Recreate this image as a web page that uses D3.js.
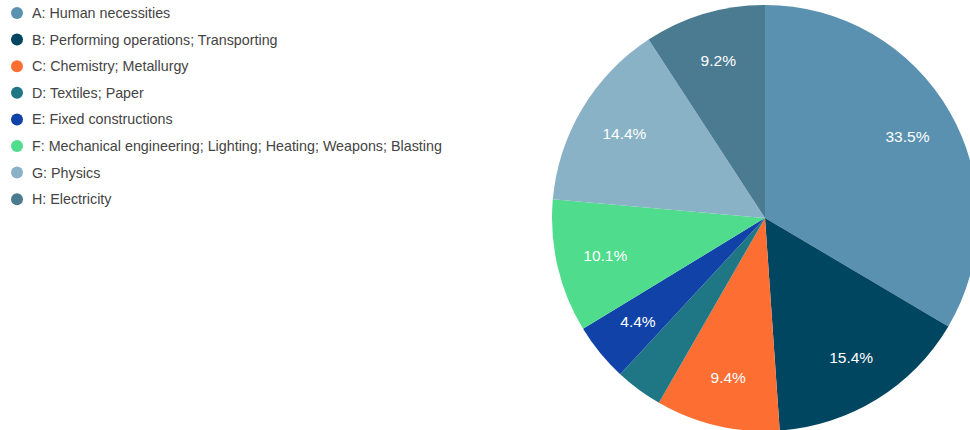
<!DOCTYPE html>
<html>
<head>
<meta charset="utf-8">
<script src="https://cdn.jsdelivr.net/npm/d3@7"></script>
<style>
  html, body { margin: 0; padding: 0; background: #fff; }
  svg { display: block; font-family: "Liberation Sans", Arial, sans-serif; }
</style>
</head>
<body>
<svg id="chart" width="970" height="430"></svg>
<script>
// IPC sections and their share of filings (%)
const categories = [
  "A: Human necessities",
  "B: Performing operations; Transporting",
  "C: Chemistry; Metallurgy",
  "D: Textiles; Paper",
  "E: Fixed constructions",
  "F: Mechanical engineering; Lighting; Heating; Weapons; Blasting",
  "G: Physics",
  "H: Electricity"
];
const shares = [33.5, 15.4, 9.4, 3.6, 4.4, 10.1, 14.4, 9.2];
const colors = ["#5a91b0", "#004661", "#fd6e33", "#1f7685", "#1142a8", "#4fdc8c", "#8ab2c7", "#4b7b91"];

const data = categories.map((c, i) => ({ name: c, value: shares[i] }));

const svg = d3.select("#chart");
const cx = 765, cy = 218, radius = 213;

const color = d3.scaleOrdinal().domain(categories).range(colors);

const pie = d3.pie().value(d => d.value).sort(null);
const arc = d3.arc().innerRadius(0).outerRadius(radius);
const labelArc = d3.arc().innerRadius(164).outerRadius(164);

const g = svg.append("g").attr("transform", `translate(${cx},${cy})`);
const arcs = pie(data);

g.selectAll("path")
  .data(arcs)
  .join("path")
  .attr("d", arc)
  .attr("fill", d => color(d.data.name));

// Percentage labels on slices big enough to hold them
g.selectAll("text")
  .data(arcs.filter(d => d.data.value >= 4))
  .join("text")
  .attr("transform", d => `translate(${labelArc.centroid(d)})`)
  .attr("text-anchor", "middle")
  .attr("dominant-baseline", "central")
  .attr("fill", "#ffffff")
  .style("font-size", "15.5px")
  .text(d => d3.format(".1f")(d.data.value) + "%");

// Legend
const legend = svg.append("g").attr("transform", "translate(17,13)");
const rows = legend.selectAll("g")
  .data(categories)
  .join("g")
  .attr("transform", (d, i) => `translate(0,${i * 26.6})`);

rows.append("circle")
  .attr("r", 6)
  .attr("fill", d => color(d));

rows.append("text")
  .attr("x", 15)
  .attr("dominant-baseline", "central")
  .attr("fill", "#444444")
  .style("font-size", "14.3px")
  .text(d => d);
</script>
</body>
</html>
